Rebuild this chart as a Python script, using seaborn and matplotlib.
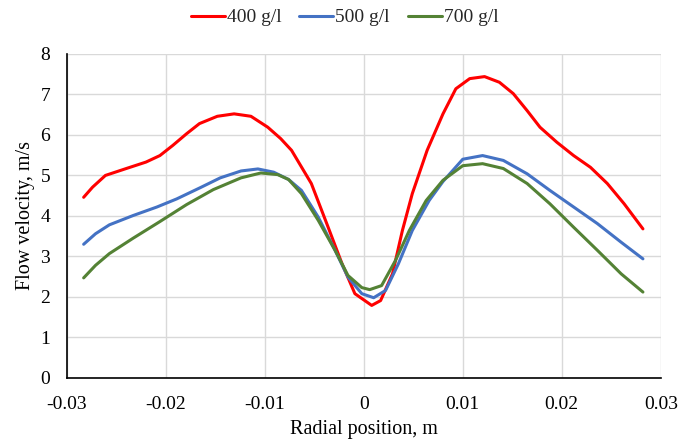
import matplotlib
matplotlib.use("Agg")
import matplotlib.pyplot as plt
import seaborn as sns
import pandas as pd

x_400 = [-0.0283, -0.0274, -0.0261, -0.0240, -0.0220, -0.0206, -0.0193, -0.0179, -0.0166, -0.0148,
         -0.0131, -0.0114, -0.0097, -0.0084, -0.0073, -0.0053, -0.0036, -0.0022, -0.0009, 0.0008,
         0.0017, 0.0029, 0.0039, 0.0049, 0.0064, 0.0080, 0.0093, 0.0107, 0.0122, 0.0137,
         0.0151, 0.0165, 0.0178, 0.0195, 0.0212, 0.0229, 0.0246, 0.0263, 0.0282]
y_400 = [4.46, 4.71, 5.00, 5.17, 5.33, 5.49, 5.74, 6.03, 6.28, 6.46,
         6.52, 6.46, 6.19, 5.91, 5.62, 4.80, 3.72, 2.82, 2.08, 1.79,
         1.91, 2.57, 3.64, 4.55, 5.62, 6.52, 7.14, 7.39, 7.44, 7.30,
         7.02, 6.60, 6.19, 5.82, 5.49, 5.20, 4.80, 4.30, 3.68]

x_500 = [-0.0283, -0.0271, -0.0257, -0.0233, -0.0209, -0.0189, -0.0165, -0.0145, -0.0124, -0.0107,
         -0.0091, -0.0076, -0.0063, -0.0046, -0.0029, -0.0016, -0.0002, 0.0010, 0.0022, 0.0035,
         0.0049, 0.0066, 0.0080, 0.0100, 0.0120, 0.0141, 0.0165, 0.0188, 0.0212, 0.0236,
         0.0260, 0.0282]
y_500 = [3.30, 3.56, 3.78, 4.01, 4.22, 4.42, 4.70, 4.94, 5.11, 5.16,
         5.08, 4.90, 4.63, 3.97, 3.15, 2.49, 2.08, 1.98, 2.16, 2.82,
         3.64, 4.38, 4.85, 5.40, 5.49, 5.37, 5.04, 4.63, 4.22, 3.81,
         3.35, 2.94]

x_700 = [-0.0283, -0.0271, -0.0257, -0.0233, -0.0206, -0.0179, -0.0152, -0.0124, -0.0104, -0.0087,
         -0.0076, -0.0063, -0.0046, -0.0029, -0.0016, -0.0002, 0.0006, 0.0018, 0.0032, 0.0046,
         0.0063, 0.0080, 0.0100, 0.0120, 0.0141, 0.0165, 0.0188, 0.0212, 0.0236, 0.0260,
         0.0282]
y_700 = [2.47, 2.78, 3.07, 3.45, 3.86, 4.28, 4.65, 4.94, 5.06, 5.02,
         4.90, 4.55, 3.89, 3.15, 2.53, 2.23, 2.18, 2.28, 2.90, 3.64,
         4.38, 4.88, 5.24, 5.29, 5.17, 4.80, 4.30, 3.72, 3.15, 2.57,
         2.12]

series_names = ["400 g/l", "500 g/l", "700 g/l"]
colors = ["#FF0000", "#4472C4", "#548235"]

df = pd.concat([
    pd.DataFrame({"x": x_400, "y": y_400, "s": series_names[0]}),
    pd.DataFrame({"x": x_500, "y": y_500, "s": series_names[1]}),
    pd.DataFrame({"x": x_700, "y": y_700, "s": series_names[2]}),
])

sns.set_theme(style="white")
plt.rcParams["font.family"] = ["Liberation Serif", "DejaVu Serif"]

fig = plt.figure(figsize=(6.89, 4.42), dpi=100)
ax = fig.add_axes([0.097, 0.145, 0.862, 0.733])
sns.lineplot(data=df, x="x", y="y", hue="s", palette=colors, sort=False,
             linewidth=2.2, ax=ax, estimator=None)
for line in ax.lines:
    line.set_solid_joinstyle("round")
    line.set_solid_capstyle("round")

ax.set_xlim(-0.03, 0.03)
ax.set_ylim(0, 8)
ax.set_xticks([-0.03, -0.02, -0.01, 0, 0.01, 0.02, 0.03])
ax.set_xticklabels(["-0.03", "-0.02", "-0.01", "0", "0.01", "0.02", "0.03"])
ax.set_yticks(range(0, 9))
ax.grid(True, color="#D9D9D9", linewidth=1.0)
ax.set_axisbelow(True)
for side in ["top", "right"]:
    ax.spines[side].set_visible(False)
for side in ["left", "bottom"]:
    ax.spines[side].set_color("black")
    ax.spines[side].set_linewidth(1.2)
ax.tick_params(axis="x", labelsize=14, colors="black", length=0, pad=13)
ax.tick_params(axis="y", labelsize=14, colors="black", length=0, pad=12)
ax.set_xlabel("Radial position, m", fontsize=14.5, color="black", labelpad=5)
ax.set_ylabel("Flow velocity, m/s", fontsize=14.5, color="black", labelpad=4)

handles, labels = ax.get_legend_handles_labels()
ax.legend(handles, labels, loc="center", bbox_to_anchor=(0.5, 0.96),
          bbox_transform=fig.transFigure, ncol=3, frameon=False,
          fontsize=14, handlelength=1.75, handletextpad=0.1, columnspacing=0.93)

fig.savefig("out.png", dpi=100)
